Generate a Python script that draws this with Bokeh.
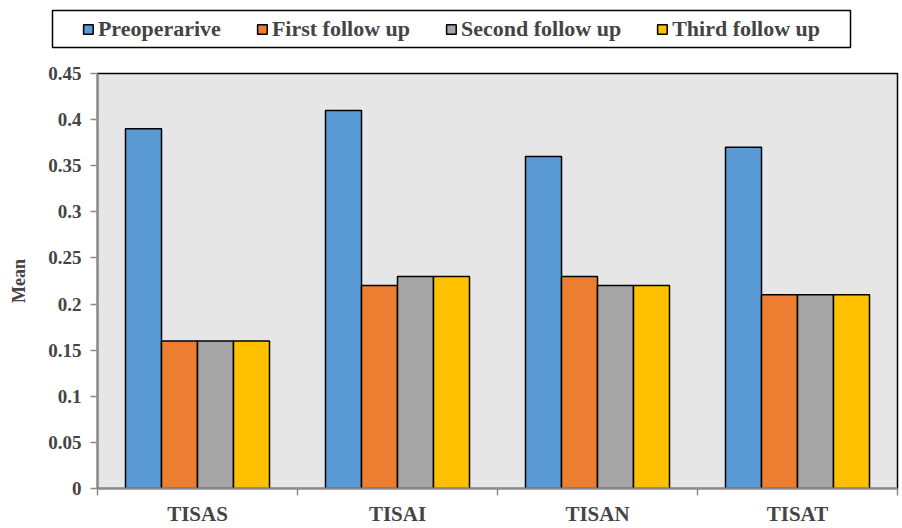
from bokeh.plotting import figure
from bokeh.layouts import column, row
from bokeh.models import (ColumnDataSource, Range1d, LinearAxis, FixedTicker,
                          CustomJSTickFormatter, Legend, LegendItem)
from bokeh.transform import dodge
from bokeh.embed import file_html
from bokeh.resources import INLINE

categories = ["TISAS", "TISAI", "TISAN", "TISAT"]
series = ["Preoperarive", "First follow up", "Second follow up", "Third follow up"]
preoperative = [0.39, 0.41, 0.36, 0.37]
first_follow = [0.16, 0.22, 0.23, 0.21]
second_follow = [0.16, 0.23, 0.22, 0.21]
third_follow = [0.16, 0.23, 0.22, 0.21]
y_ticks = [0, 0.05, 0.1, 0.15, 0.2, 0.25, 0.3, 0.35, 0.4, 0.45]

colors = ["#5B9BD5", "#ED7D31", "#A5A5A5", "#FFC000"]
FONT = "Liberation Serif"
AXIS_GREY = "#8C8C8C"

# each category occupies one unit on the x scale; bars sit around its centre
centers = [i + 0.5 for i in range(len(categories))]
source = ColumnDataSource(dict(x=centers, s0=preoperative, s1=first_follow,
                               s2=second_follow, s3=third_follow))

# ---------------------------------------------------------------- legend strip
# A narrow figure whose framed area is the boxed legend. Its key glyphs share the
# bar styling; the strip's ranges lie away from the data so only the legend shows.
leg_fig = figure(width=902, height=55, x_range=Range1d(-3, -2),
                 y_range=Range1d(-2, -1), output_backend="svg", toolbar_location=None,
                 x_axis_location=None, y_axis_location=None)
leg_fig.min_border_left = 52
leg_fig.min_border_right = 52
leg_fig.min_border_top = 10
leg_fig.min_border_bottom = 8
leg_fig.xgrid.visible = False
leg_fig.ygrid.visible = False
leg_fig.background_fill_color = "white"
leg_fig.outline_line_color = "black"
leg_fig.outline_line_width = 1.5

keys = [leg_fig.vbar(x="x", top=f"s{i}", width=0.18, source=source, fill_color=c,
                     line_color="black", line_width=1.5) for i, c in enumerate(colors)]
legend = Legend(items=[LegendItem(label=s, renderers=[k]) for s, k in zip(series, keys)],
                orientation="horizontal", location="center")
legend.label_text_font = FONT
legend.label_text_font_style = "bold"
legend.label_text_font_size = "22px"
legend.glyph_width = 12
legend.glyph_height = 12
legend.label_standoff = 4
legend.spacing = 35
legend.padding = 0
legend.margin = 0
legend.border_line_color = None
legend.background_fill_alpha = 0
leg_fig.add_layout(legend, "center")

# ---------------------------------------------------------------- bar chart
p = figure(width=902, height=473, x_range=Range1d(0, len(categories)),
           y_range=Range1d(0, 0.45), output_backend="svg", toolbar_location=None,
           x_axis_location=None, y_axis_location=None)
p.min_border_left = 97
p.min_border_right = 5
p.min_border_top = 18
p.min_border_bottom = 37
p.background_fill_color = "#E6E6E6"
p.border_fill_color = "white"
p.outline_line_color = "black"
p.outline_line_width = 1.5
p.xgrid.visible = False
p.ygrid.visible = False

bar_w = 0.18
offsets = [-0.27, -0.09, 0.09, 0.27]
for i, col in enumerate(colors):
    p.vbar(x=dodge("x", offsets[i]), top=f"s{i}", width=bar_w,
           source=source, fill_color=col, line_color="black", line_width=1.5)

# y axis
yaxis = LinearAxis(ticker=FixedTicker(ticks=y_ticks),
                   formatter=CustomJSTickFormatter(code="return parseFloat(tick.toFixed(2)).toString();"))
yaxis.axis_label = "Mean"
yaxis.axis_label_text_font = FONT
yaxis.axis_label_text_font_style = "bold"
yaxis.axis_label_text_font_size = "18px"
yaxis.axis_label_standoff = 16
yaxis.major_label_text_font = FONT
yaxis.major_label_text_font_style = "bold"
yaxis.major_label_text_font_size = "19px"
yaxis.major_label_standoff = 9
yaxis.axis_line_color = AXIS_GREY
yaxis.axis_line_width = 2
yaxis.major_tick_line_color = AXIS_GREY
yaxis.major_tick_line_width = 1.5
yaxis.major_tick_out = 7
yaxis.major_tick_in = 0
yaxis.minor_tick_line_color = None
p.add_layout(yaxis, "left")

# x axis: tick marks on category boundaries
bounds = list(range(len(categories) + 1))
tick_axis = LinearAxis(ticker=FixedTicker(ticks=bounds),
                       major_label_overrides={k: "" for k in bounds})
tick_axis.major_label_text_font_size = "1px"
tick_axis.major_label_standoff = 0
tick_axis.axis_line_color = AXIS_GREY
tick_axis.axis_line_width = 2
tick_axis.major_tick_line_color = AXIS_GREY
tick_axis.major_tick_line_width = 1.5
tick_axis.major_tick_out = 7
tick_axis.major_tick_in = 0
tick_axis.minor_tick_line_color = None
p.add_layout(tick_axis, "below")

# category names centred under each group
cat_axis = LinearAxis(ticker=FixedTicker(ticks=centers),
                      major_label_overrides={c: name for c, name in zip(centers, categories)})
cat_axis.axis_line_color = None
cat_axis.major_tick_line_color = None
cat_axis.minor_tick_line_color = None
cat_axis.major_label_standoff = 0
cat_axis.major_label_text_font = FONT
cat_axis.major_label_text_font_style = "bold"
cat_axis.major_label_text_font_size = "21px"
p.add_layout(cat_axis, "below")

layout = column(row(leg_fig), row(p), spacing=0)
open("out.html", "w").write(file_html(layout, INLINE))
